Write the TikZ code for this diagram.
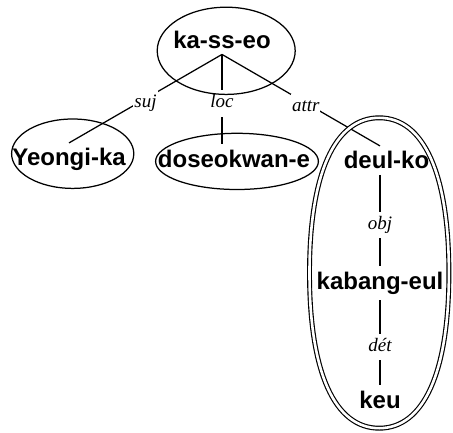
\documentclass[tikz,border=0pt]{standalone}
\usepackage{fontspec}
\usetikzlibrary{shapes.geometric}
\newfontfamily\wordfont{Liberation Sans}
\newfontfamily\relfont{Liberation Serif}

\begin{document}
\begin{tikzpicture}[
  x=1pt, y=1pt,
  word/.style={font=\wordfont\bfseries\fontsize{24}{28}\selectfont, inner xsep=0pt, inner ysep=5.5pt, anchor=base},
  rel/.style={font=\relfont\itshape\fontsize{19}{22}\selectfont, fill=white, inner xsep=1pt, inner ysep=5pt, text height=12.5pt, text depth=4pt, yshift=-4.5pt},
  link/.style={line width=1.25pt},
  bubble/.style={draw, ellipse, line width=1.25pt, inner sep=0pt},
  bigbubble/.style={draw, double, line width=1.15pt, double distance=2.6pt}
]
\useasboundingbox (0,0) rectangle (453,432);

% Words
\node[word] (kasseo) at (222, 383.5) {ka-ss-eo};
\node[word] (yeongi) at (69, 266) {Yeongi-ka};
\node[word] (doseok) at (234, 265) {doseokwan-e};
\node[word] (deulko) at (386.5, 263) {deul-ko};
\node[word] (kabang) at (380, 142.7) {kabang-eul};
\node[word] (keu) at (380, 24) {keu};

% Dependencies
\draw[link] (kasseo.south) -- node[rel] {suj} (yeongi.north);
\draw[link] (kasseo.south) -- node[rel] {loc} (kasseo.south |- doseok.north);
\draw[link] (kasseo.south) -- node[rel, pos=0.53] {attr} (kabang.north |- deulko.north);
\draw[link] (kabang.north |- deulko.south) -- node[rel] {obj} (kabang.north);
\draw[link] (kabang.south) -- node[rel] {dét} (keu.north);

% Bubbles
\node[bubble, minimum width=138pt, minimum height=87.2pt] (bubble-kasseo) at (226.2, 381.2) {};
\node[bubble, minimum width=122.2pt, minimum height=69.4pt] (bubble-yeongi) at (72.7, 278.3) {};
\node[bubble, minimum width=162.8pt, minimum height=56.2pt] (bubble-doseok) at (237, 270.6) {};

% double bubble round deul-ko and its dependents
\draw[bigbubble] (379.2,314.2) .. controls (423.8,314.2) and (448.9,258.3) .. (448.9,159)
  .. controls (448.9,59.7) and (423.8,3.8) .. (379.2,3.8)
  .. controls (334.6,3.8) and (309.5,59.7) .. (309.5,159)
  .. controls (309.5,258.3) and (334.6,314.2) .. (379.2,314.2) -- cycle;

\end{tikzpicture}
\end{document}
